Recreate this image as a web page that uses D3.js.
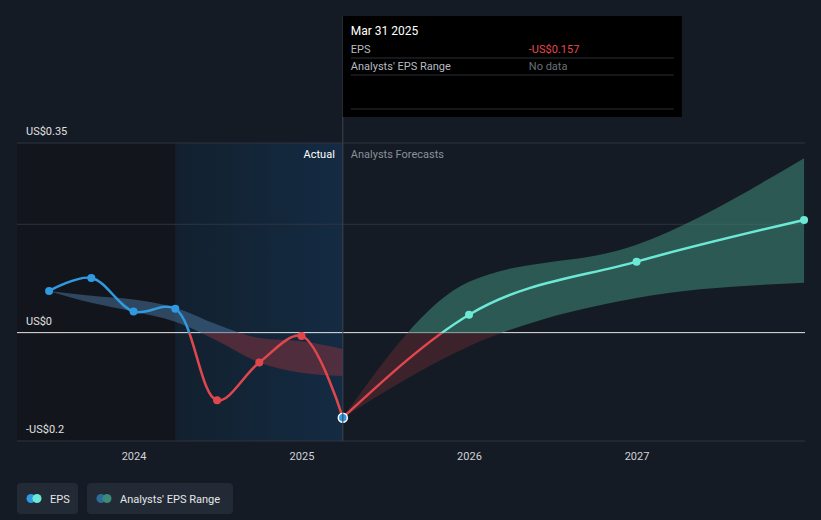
<!DOCTYPE html>
<html><head><meta charset="utf-8">
<script src="https://cdn.jsdelivr.net/npm/d3@7"></script>
<style>body{margin:0;background:#151b24;font-family:Roboto,"Noto Sans",sans-serif}</style>
</head><body><div id="root"></div>
<script>
// actual EPS
const actualDates = ['2023-06-30','2023-09-30','2023-12-31','2024-03-31','2024-06-30','2024-09-30','2024-12-31','2025-03-31'];
const actualEps = [0.077, 0.101, 0.039, 0.044, -0.125, -0.055, -0.006, -0.157];
// past analyst range
const pastHigh = [0.077, 0.068, 0.061, 0.046, 0.015, -0.01, -0.016, -0.03];
const pastLow = [0.077, 0.055, 0.039, 0.02, -0.015, -0.055, -0.074, -0.08];
// forecasts
const fcDates = ['2025-03-31','2025-12-31','2026-12-31','2027-12-31'];
const fcEps = [-0.157, 0.033, 0.131, 0.208];
const fcHigh = [-0.157, 0.094, 0.162, 0.322];
const fcLow = [-0.157, -0.025, 0.064, 0.092];
const yTicks = [0.35, 0, -0.2];
const xTicks = ['2024', '2025', '2026', '2027'];

const W = 821, H = 520;
const parse = d3.timeParse('%Y-%m-%d');
const svg = d3.select('#root').append('svg').attr('width', W).attr('height', H);
const x = d3.scaleTime().domain([parse('2024-01-01'), parse('2027-01-01')]).range([134, 637]);
const y = d3.scaleLinear().domain([-0.2, 0.35]).range([441, 143]);
const y0 = y(0);
const defs = svg.append('defs');
function grad(id, top, bot) {
  const g = defs.append('linearGradient').attr('id', id).attr('gradientUnits', 'userSpaceOnUse')
    .attr('x1', 0).attr('x2', 0).attr('y1', 143).attr('y2', 441);
  const f = (y0 - 143) / (441 - 143);
  g.append('stop').attr('offset', f).attr('stop-color', top);
  g.append('stop').attr('offset', f).attr('stop-color', bot);
}
grad('gLineA', '#2f9ae0', '#e0474c');
grad('gLineF', '#6ce9d6', '#e0474c');
grad('gBandA', 'rgba(70,110,150,0.55)', 'rgba(140,50,60,0.5)');
grad('gBandF', 'rgba(60,130,115,0.6)', 'rgba(120,45,55,0.4)');

// background regions
svg.append('rect').attr('x', 17).attr('y', 143).attr('width', x(parse('2024-03-31')) - 17).attr('height', 298).attr('fill', '#12161c');
const hg = defs.append('linearGradient').attr('id', 'hl').attr('x1', 0).attr('x2', 1);
hg.append('stop').attr('offset', 0).attr('stop-color', '#12202e');
hg.append('stop').attr('offset', 1).attr('stop-color', '#142b43');
svg.append('rect').attr('x', x(parse('2024-03-31'))).attr('y', 143)
  .attr('width', x(parse('2025-03-31')) - x(parse('2024-03-31'))).attr('height', 298).attr('fill', 'url(#hl)');

// grid
[0.35, 0.2, -0.2].forEach(v => svg.append('line').attr('x1', 17).attr('x2', 805).attr('y1', y(v)).attr('y2', y(v)).attr('stroke', '#2e3540'));
svg.append('line').attr('x1', 17).attr('x2', 805).attr('y1', y0).attr('y2', y0).attr('stroke', '#e6e6e6');

yTicks.forEach(v => svg.append('text').attr('x', 26).attr('y', y(v) - 8).attr('fill', '#e0e0e0').attr('font-size', 11)
  .text(v === 0 ? 'US$0' : (v < 0 ? '-US$' : 'US$') + Math.abs(v)));
xTicks.forEach(t => svg.append('text').attr('x', x(parse(t + '-01-01'))).attr('y', 460).attr('text-anchor', 'middle')
  .attr('fill', '#cfd3d8').attr('font-size', 11).text(t));

const A = actualDates.map((d, i) => ({ d: parse(d), v: actualEps[i], hi: pastHigh[i], lo: pastLow[i] }));
const F = fcDates.map((d, i) => ({ d: parse(d), v: fcEps[i], hi: fcHigh[i], lo: fcLow[i] }));
const area = d3.area().x(p => x(p.d)).y0(p => y(p.lo)).y1(p => y(p.hi)).curve(d3.curveMonotoneX);
const line = d3.line().x(p => x(p.d)).y(p => y(p.v)).curve(d3.curveCatmullRom);
svg.append('path').attr('d', area(A)).attr('fill', 'url(#gBandA)');
svg.append('path').attr('d', area(F)).attr('fill', 'url(#gBandF)');
svg.append('path').attr('d', line(A)).attr('fill', 'none').attr('stroke', 'url(#gLineA)').attr('stroke-width', 2.5);
svg.append('path').attr('d', d3.line().x(p => x(p.d)).y(p => y(p.v)).curve(d3.curveMonotoneX)(F))
  .attr('fill', 'none').attr('stroke', 'url(#gLineF)').attr('stroke-width', 2.5);
A.forEach((p, i) => svg.append('circle').attr('cx', x(p.d)).attr('cy', y(p.v)).attr('r', i === A.length - 1 ? 4.5 : 4)
  .attr('fill', i === A.length - 1 ? '#2f9ae0' : (p.v >= 0 ? '#2f9ae0' : '#e0474c'))
  .attr('stroke', i === A.length - 1 ? '#fff' : 'none').attr('stroke-width', 1.5));
F.slice(1).forEach(p => svg.append('circle').attr('cx', x(p.d)).attr('cy', y(p.v)).attr('r', 4).attr('fill', '#6ce9d6'));

const xc = x(parse('2025-03-31'));
svg.append('text').attr('x', xc - 8).attr('y', 158).attr('text-anchor', 'end').attr('fill', '#fff').attr('font-size', 11).text('Actual');
svg.append('text').attr('x', xc + 8).attr('y', 158).attr('fill', '#8a9099').attr('font-size', 11).text('Analysts Forecasts');

// tooltip
svg.append('line').attr('x1', xc).attr('x2', xc).attr('y1', 16).attr('y2', 441).attr('stroke', '#3a4350');
svg.append('rect').attr('x', xc).attr('y', 16).attr('width', 339).attr('height', 101).attr('fill', '#000');
svg.append('text').attr('x', xc + 8).attr('y', 35).attr('fill', '#fff').attr('font-size', 12).text('Mar 31 2025');
[['EPS', '-US$0.157', '#e5484d', 53], ["Analysts' EPS Range", 'No data', '#6a6f77', 70]].forEach(r => {
  svg.append('text').attr('x', xc + 8).attr('y', r[3]).attr('fill', '#b7bbc1').attr('font-size', 11).text(r[0]);
  svg.append('text').attr('x', xc + 186).attr('y', r[3]).attr('fill', r[2]).attr('font-size', 11).text(r[1]);
  svg.append('line').attr('x1', xc + 8).attr('x2', xc + 331).attr('y1', r[3] + 5).attr('y2', r[3] + 5).attr('stroke', '#2a2f36');
});
svg.append('line').attr('x1', xc + 8).attr('x2', xc + 331).attr('y1', 109).attr('y2', 109).attr('stroke', '#2a2f36');

// legend
[[17, 61, 'EPS', '#2f9ae0', '#6ce9d6'], [87, 146, "Analysts' EPS Range", '#2d6c9a', '#3c8a7a']].forEach(l => {
  svg.append('rect').attr('x', l[0]).attr('y', 483).attr('width', l[1]).attr('height', 31).attr('rx', 4).attr('fill', '#222a35');
  svg.append('circle').attr('cx', l[0] + 14).attr('cy', 498.5).attr('r', 4.5).attr('fill', l[3]);
  svg.append('circle').attr('cx', l[0] + 20).attr('cy', 498.5).attr('r', 4.5).attr('fill', l[4]);
  svg.append('text').attr('x', l[0] + 33).attr('y', 502.5).attr('fill', '#e6e6e6').attr('font-size', 11).text(l[2]);
});
</script></body></html>
